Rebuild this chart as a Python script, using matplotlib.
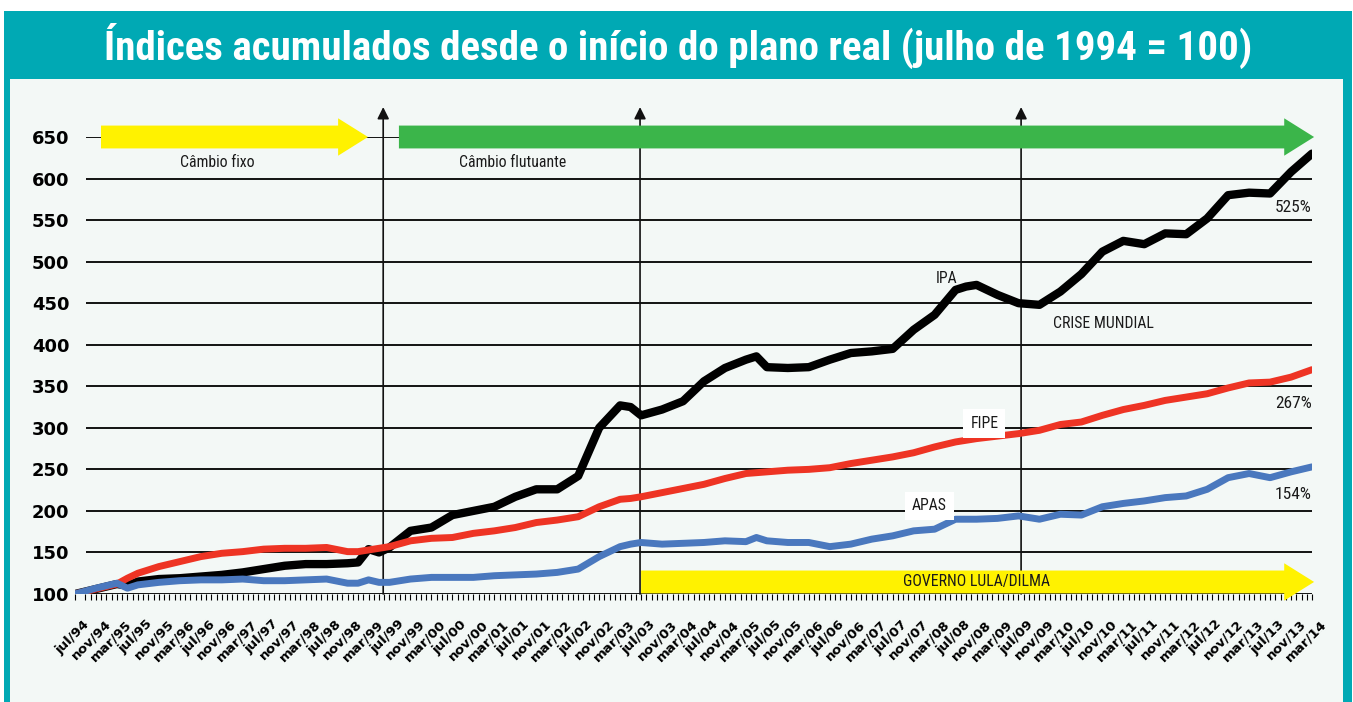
import matplotlib
matplotlib.use("Agg")
import matplotlib.pyplot as plt
from matplotlib import font_manager
from matplotlib.patches import Rectangle, FancyArrow
from matplotlib.transforms import ScaledTranslation

# Indices acumulados desde jul/94 (=100)

# DADOS
months = [0, 4, 8, 10, 12, 16, 20, 24, 28, 32, 36, 40, 44, 48, 52, 54, 56, 58, 60,
          64, 68, 72, 76, 80, 84, 88, 92, 96, 100, 104, 106, 108, 112, 116, 120,
          124, 128, 130, 132, 136, 140, 144, 148, 152, 156, 160, 164, 168, 170,
          172, 176, 180, 184, 188, 192, 196, 200, 204, 208, 212, 216, 220, 224,
          228, 232, 236]
ipa = [100, 106, 112, 110, 115, 118, 119, 121, 123, 126, 130, 134, 136, 136, 137, 138,
       154, 150, 156, 176, 180, 195, 200, 205, 217, 226, 226, 242, 300, 327, 325, 315,
       322, 332, 356, 372, 382, 386, 373, 372, 373, 382, 390, 392, 395, 418, 436, 466,
       470, 472, 460, 450, 448, 464, 485, 512, 525, 521, 534, 533, 552, 580, 583, 582,
       608, 630]
fipe = [100, 106, 112, 119, 125, 133, 139, 145, 149, 151, 154, 155, 155, 156, 151, 151,
        153, 155, 157, 164, 167, 168, 173, 176, 180, 186, 189, 193, 205, 214, 215, 217,
        222, 227, 232, 239, 245, 246, 247, 249, 250, 252, 257, 261, 265, 270, 277, 283,
        285, 287, 290, 293, 297, 304, 307, 315, 322, 327, 333, 337, 341, 348, 354, 355,
        361, 370]
apas = [100, 107, 113, 107, 111, 114, 116, 117, 117, 118, 116, 116, 117, 118, 113, 113,
        117, 114, 114, 118, 120, 120, 120, 122, 123, 124, 126, 130, 145, 157, 160, 162,
        160, 161, 162, 164, 163, 168, 164, 162, 162, 157, 160, 166, 170, 176, 178, 190,
        190, 190, 191, 194, 190, 196, 195, 205, 209, 212, 216, 218, 226, 240, 245, 240,
        247, 253]

tick_months = list(range(0, 237, 4))
tick_labels = ['jul/94', 'nov/94', 'mar/95', 'jul/95', 'nov/95', 'mar/96', 'jul/96', 'nov/96',
               'mar/97', 'jul/97', 'nov/97', 'mar/98', 'jul/98', 'nov/98', 'mar/99', 'jul/99',
               'nov/99', 'mar/00', 'jul/00', 'nov/00', 'mar/01', 'jul/01', 'nov/01', 'mar/02',
               'jul/02', 'nov/02', 'mar/03', 'jul/03', 'nov/03', 'mar/04', 'jul/04', 'nov/04',
               'mar/05', 'jul/05', 'nov/05', 'mar/06', 'jul/06', 'nov/06', 'mar/07', 'jul/07',
               'nov/07', 'mar/08', 'jul/08', 'nov/08', 'mar/09', 'jul/09', 'nov/09', 'mar/10',
               'jul/10', 'nov/10', 'mar/11', 'jul/11', 'nov/11', 'mar/12', 'jul/12', 'nov/12',
               'mar/13', 'jul/13', 'nov/13', 'mar/14']
yticks = [100, 150, 200, 250, 300, 350, 400, 450, 500, 550, 600, 650]
events = [58.8, 107.8, 180.5]   # mudanca cambial, inicio Lula, crise

# fonte estreita se existir
names = {f.name for f in font_manager.fontManager.ttflist}
narrow = next((n for n in ['Roboto Condensed', 'Liberation Sans Narrow', 'Open Sans Condensed']
               if n in names), 'DejaVu Sans')

W, H = 1353, 702
TEAL = '#00a9b4'
fig = plt.figure(figsize=(W / 100, H / 100), dpi=100)
fig.patch.set_facecolor('white')
fig.patches.append(Rectangle((4 / W, 0), 1348 / W, 691 / H, transform=fig.transFigure,
                             facecolor=TEAL, edgecolor='none', zorder=-2))
fig.patches.append(Rectangle((10 / W, 0), 1333 / W, 623 / H, transform=fig.transFigure,
                             facecolor='#f3f8f6', edgecolor='none', zorder=-1))
fig.text(678 / W, 1 - 46 / H, 'Índices acumulados desde o início do plano real (julho de 1994 = 100)',
         ha='center', va='center', color='white', fontsize=29.5, fontweight='bold',
         family=[narrow, 'DejaVu Sans'])

ax = fig.add_axes([75 / W, 1 - 594 / H, 1237 / W, 457 / H])
ax.set_facecolor('none')
for s in ax.spines.values():
    s.set_visible(False)
ax.set_xlim(0, 236)
ax.set_ylim(100, 650)

# grade
ax.hlines(yticks, 2.1, 236.2, color='black', lw=1.3, zorder=1)

# eixos
ax.set_yticks(yticks)
ax.set_yticklabels([str(v) for v in yticks], fontsize=13, fontweight='bold')
ax.tick_params(axis='y', length=0, pad=4)
ax.set_xticks(tick_months)
ax.set_xticklabels(tick_labels, rotation=45, ha='right', va='top', rotation_mode='anchor',
                   fontsize=9.5, fontweight='bold')
ax.set_xticks(range(2, 237), minor=True)
ax.tick_params(axis='x', which='both', direction='out', length=4, width=0.8, color='black', pad=13)
for lab in ax.get_xticklabels():
    lab.set_transform(lab.get_transform() + ScaledTranslation(0.08, 0, fig.dpi_scale_trans))

# linhas verticais com seta
for m in events:
    ax.annotate('', xy=(m, 686), xytext=(m, 100), annotation_clip=False,
                arrowprops=dict(arrowstyle='-|>,head_length=0.5,head_width=0.25', lw=1.2,
                                color='#111111', mutation_scale=14, shrinkA=0, shrinkB=0),
                zorder=2)

# setas de periodo
def seta(x0, x1, y, cor):
    a = FancyArrow(x0, y, x1 - x0, 0, width=27.5, head_width=45, head_length=5.7,
                   length_includes_head=True, facecolor=cor, edgecolor='none',
                   clip_on=False, zorder=2.5)
    ax.add_patch(a)

seta(4.96, 55.9, 650, '#fff200')
seta(61.8, 236.4, 650, '#3bb54a')
seta(108.0, 236.4, 114.5, '#fff200')

# series
kw = dict(solid_joinstyle='round', solid_capstyle='round', zorder=3)
ax.plot(months, ipa, color='black', lw=6, **kw)
ax.plot(months, fipe, color='#ee3424', lw=5, **kw)
ax.plot(months, apas, color='#4a78be', lw=5, **kw)

# textos
tk = dict(family=[narrow, 'DejaVu Sans'], fontsize=11.3, color='#1a1a1a', zorder=4)
ax.text(27.1, 619, 'Câmbio fixo', ha='center', va='center', **tk)
ax.text(83.4, 619, 'Câmbio flutuante', ha='center', va='center', **tk)
ax.text(166.2, 480, 'IPA', ha='center', va='center', **tk)
ax.text(196.3, 426, 'CRISE MUNDIAL', ha='center', va='center', **tk)
tp = dict(tk, fontsize=12.5)
ax.text(236, 565, '525%', ha='right', va='center', **tp)
ax.text(236, 329, '267%', ha='right', va='center', **tp)
ax.text(236, 220, '154%', ha='right', va='center', **tp)
ax.text(173.5, 305, 'FIPE', ha='center', va='center',
        bbox=dict(facecolor='white', edgecolor='none', pad=5), **tk)
ax.text(163, 206, 'APAS', ha='center', va='center',
        bbox=dict(facecolor='white', edgecolor='none', pad=5), **tk)
ax.text(172, 114.5, 'GOVERNO LULA/DILMA', ha='center', va='center', **tk)

plt.savefig('out.png', dpi=100)
